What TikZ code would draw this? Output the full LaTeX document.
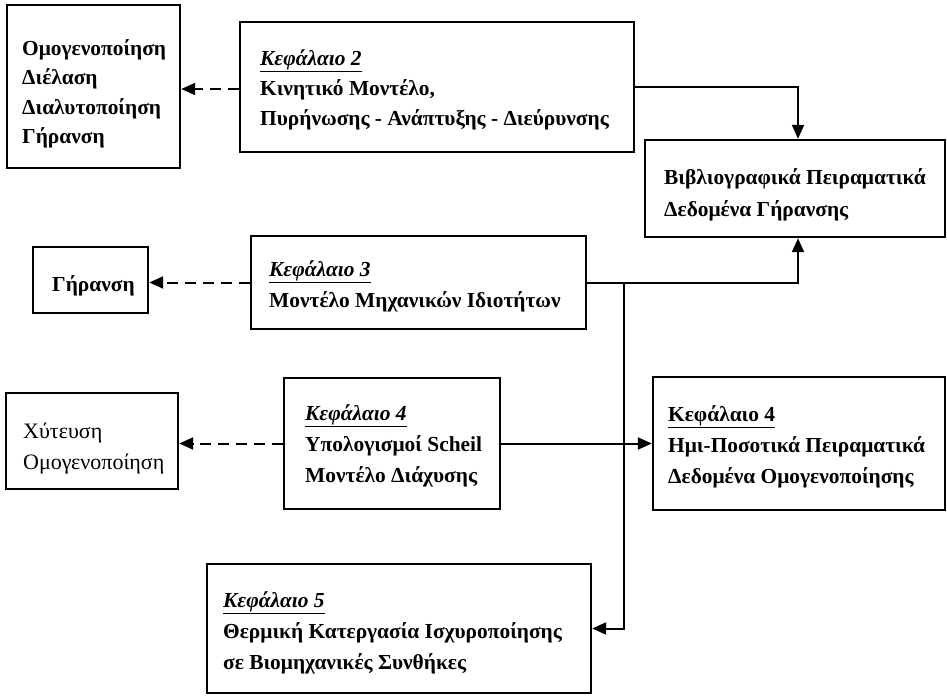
\documentclass[tikz,border=0pt]{standalone}
\usepackage{fontspec}
\setmainfont{Liberation Serif}
\usetikzlibrary{arrows.meta,calc}

\newcommand{\kef}[1]{\underline{\textit{Κεφάλαιο #1}}}

\begin{document}
\begin{tikzpicture}[x=1pt,y=-1pt,
	box/.style={draw,line width=2.4pt,rectangle,inner sep=0pt},
	txt/.style={anchor=base west,align=left,inner sep=0pt,
		font=\fontsize{21.4}{31}\selectfont\bfseries},
	link/.style={line width=2pt,-{Triangle[length=14pt,width=12pt]}},
	dlink/.style={link,dash pattern=on 11pt off 7pt}]
	\useasboundingbox (0,0) rectangle (947,696);
	% boxes
	\node[box,minimum width=173pt,minimum height=163pt] (A) at (93.5,86.5) {};
	\node[box,minimum width=394pt,minimum height=130pt] (B) at (437,87) {};
	\node[box,minimum width=300pt,minimum height=97pt] (C) at (795,188.5) {};
	\node[box,minimum width=115pt,minimum height=66pt] (D) at (90.5,280) {};
	\node[box,minimum width=335pt,minimum height=93pt] (E) at (418.5,282.5) {};
	\node[box,minimum width=172pt,minimum height=96pt] (F) at (92,441) {};
	\node[box,minimum width=216pt,minimum height=131pt] (G) at (392,443.5) {};
	\node[box,minimum width=292pt,minimum height=133pt] (I) at (799,443.5) {};
	\node[box,minimum width=384pt,minimum height=129pt] (H) at (399,628.5) {};
	% texts (placed by the baseline of their last line)
	\node[txt,font=\fontsize{21.4}{29.5}\selectfont\bfseries] (At) at (22,143.5)
		{Ομογενοποίηση\\Διέλαση\\Διαλυτοποίηση\\Γήρανση};
	\node[txt,font=\fontsize{21.4}{30}\selectfont\bfseries] (Bt) at (260,125)
		{\kef{2}\\Κινητικό Μοντέλο,\\Πυρήνωσης - Ανάπτυξης - Διεύρυνσης};
	\node[txt,font=\fontsize{21.4}{32}\selectfont\bfseries] (Ct) at (664,216)
		{Βιβλιογραφικά Πειραματικά\\Δεδομένα Γήρανσης};
	\node[txt] (Dt) at (52,291) {Γήρανση};
	\node[txt] (Et) at (269,307) {\kef{3}\\Μοντέλο Μηχανικών Ιδιοτήτων};
	\node[txt,font=\fontsize{22}{31}\selectfont] (Ft) at (23,469) {Χύτευση\\Ομογενοποίηση};
	\node[txt] (Gt) at (305,482) {\kef{4}\\Υπολογισμοί Scheil\\Μοντέλο Διάχυσης};
	\node[txt] (It) at (668,483)
		{\underline{Κεφάλαιο 4}\\Ημι-Ποσοτικά Πειραματικά\\Δεδομένα Ομογενοποίησης};
	\node[txt] (Ht) at (223,669)
		{\kef{5}\\Θερμική Κατεργασία Ισχυροποίησης\\σε Βιομηχανικές Συνθήκες};
	% connectors
	\coordinate (j) at ($(E.east)+(37,0)$);
	\draw[dlink] ($(B.west)+(0,2)$) -- ($(B.west -| A.east)+(0,2)$);
	\draw[dlink] (E.west) -- (E.west -| D.east);
	\draw[dlink] (G.west) -- (G.west -| F.east);
	\draw[link] (B.east) -| ($(C.north)+(3,0)$);
	\draw[link] (E.east) -| ($(C.south)+(3,0)$);
	\draw[link] (j) |- (H.east);
	\draw[link] (G.east) -- (G.east -| I.west);
\end{tikzpicture}
\end{document}
